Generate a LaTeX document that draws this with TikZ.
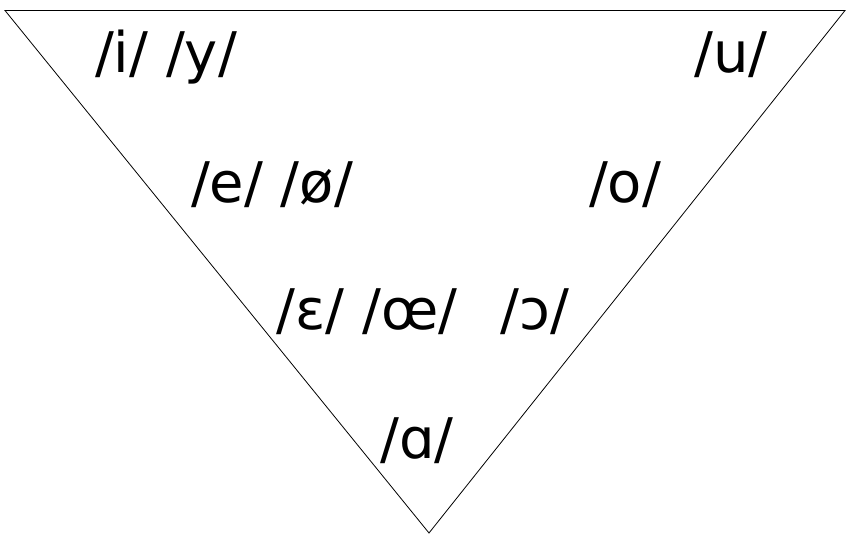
\documentclass[tikz,border=0pt]{standalone}
\usepackage{fontspec}
\setmainfont{DejaVu Sans}
\usetikzlibrary{positioning}

\begin{document}
\begin{tikzpicture}[x=1pt, y=-1pt]
            \tikzset{
                vowel/.style={anchor=base, inner sep=0pt, font=\fontsize{56}{62}\selectfont}, % glasovi
                edge/.style={draw, line width=0.8pt}, % stranice trikotnika
            }

            \useasboundingbox (0,0) rectangle (852,540);

            \coordinate (front) at (5,10.5);
            \coordinate (back) at (845,10.5);
            \coordinate (open) at (429,533);

            \draw[edge] (front) -- (back) -- (open) -- cycle;

            \node[vowel] (iy) at (166,73) {/i/ /y/};
            \node[vowel] (u) at (731,73) {/u/};
            \node[vowel] (eo) at (272,203) {/e/ /ø/};
            \node[vowel] (o) at (625,203) {/o/};
            \node[vowel] (Eoe) at (367,330) {/ɛ/ /œ/};
            \node[vowel] (O) at (535,330) {/ɔ/};
            \node[vowel] (a) at (417,458) {/ɑ/};
        \end{tikzpicture}
\end{document}
